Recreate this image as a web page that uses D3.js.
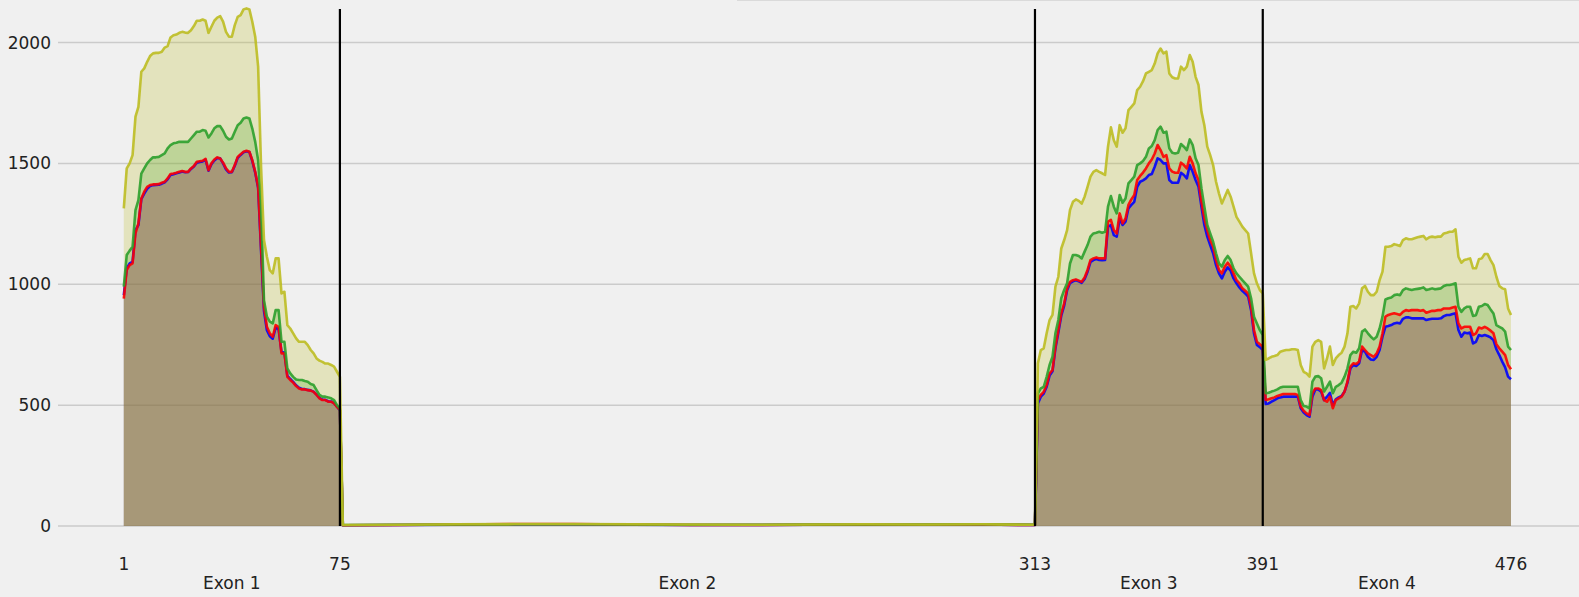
<!DOCTYPE html>
<html>
<head>
<meta charset="utf-8">
<script src="https://cdn.jsdelivr.net/npm/d3@7"></script>
<style>
	html, body { margin: 0; padding: 0; background: #f0f0f0; }
	svg { display: block; font-family: "DejaVu Sans", sans-serif; }
</style>
</head>
<body>
<svg id="chart" width="1579" height="597"></svg>
<script>
// exon boundaries (1-based positions) and labels
var exonBounds = [1, 75, 313, 391, 476];
var exonNames = ["Exon 1", "Exon 2", "Exon 3", "Exon 4"];
var yTicks = [0, 500, 1000, 1500, 2000];

// positions: exon 1 every base, exon 2 sparse (flat ~0), exons 3+4 every base
var positions = d3.range(1, 76)
	.concat([76, 95, 115, 135, 155, 175, 195, 215, 235, 255, 275, 295, 313])
	.concat(d3.range(314, 477));

var covYellow = [
	1314,1479,1500,1534,1693,1734,1879,1893,1920,1944,
	1955,1957,1957,1962,1979,1985,2021,2030,2033,2040,
	2044,2041,2040,2051,2068,2090,2090,2095,2090,2040,
	2065,2090,2103,2109,2086,2044,2024,2024,2072,2106,
	2113,2137,2141,2137,2086,2024,1900,1486,1183,1114,
	1058,1045,1107,1107,962,969,831,817,797,776,
	762,762,762,748,728,714,693,684,679,672,
	672,666,659,638,617,
	4,5,7,8,8,7,6,5,6,7,6,7,5,
	673,728,735,797,852,873,990,1031,1148,1183,
	1224,1307,1341,1351,1345,1334,1362,1403,1445,1465,
	1472,1465,1459,1452,1569,1649,1596,1569,1658,1627,
	1645,1720,1734,1748,1803,1817,1840,1872,1879,1886,
	1913,1955,1975,1955,1962,1872,1856,1851,1851,1900,
	1886,1900,1948,1920,1858,1824,1714,1658,1569,1534,
	1493,1424,1376,1334,1362,1390,1362,1321,1279,1259,
	1238,1224,1210,1128,1045,1004,976,962,
	687,693,700,703,707,721,725,728,728,731,
	731,728,666,638,631,618,742,762,769,762,
	652,693,742,666,693,707,717,742,797,907,
	910,900,921,983,993,969,955,955,969,1017,
	1052,1155,1155,1158,1166,1162,1158,1183,1190,1186,
	1186,1190,1194,1197,1200,1186,1194,1197,1194,1197,
	1197,1210,1213,1217,1217,1227,1114,1089,1100,1103,
	1107,1066,1066,1103,1107,1125,1125,1100,1079,1031,
	993,983,979,900,873
];

var covGreen = [
	990,1121,1139,1155,1307,1348,1458,1479,1500,1514,
	1525,1525,1527,1534,1541,1562,1576,1583,1585,1589,
	1589,1589,1589,1603,1617,1631,1631,1638,1635,1607,
	1624,1645,1654,1654,1635,1610,1599,1603,1631,1658,
	1668,1686,1690,1686,1644,1589,1513,1321,934,866,
	845,838,893,893,762,762,652,631,617,606,
	604,604,600,597,587,583,562,542,535,535,
	532,528,521,500,486,
	4,5,6,7,7,6,5,5,6,6,6,7,5,
	549,569,576,617,666,700,797,852,942,976,
	1004,1086,1121,1121,1117,1107,1135,1162,1197,1210,
	1213,1217,1213,1217,1321,1365,1321,1293,1369,1337,
	1355,1417,1431,1445,1493,1500,1510,1527,1562,1572,
	1596,1638,1652,1627,1631,1562,1544,1541,1544,1580,
	1569,1555,1599,1576,1521,1493,1397,1321,1245,1210,
	1176,1128,1086,1073,1100,1117,1100,1066,1045,1031,
	1017,1004,990,942,866,838,810,790,
	549,551,556,560,565,573,576,576,576,576,
	576,576,521,496,494,487,597,618,620,611,
	556,576,597,549,576,583,593,618,652,707,
	721,717,735,804,813,797,783,772,783,817,
	866,937,942,945,955,958,955,976,983,979,
	976,979,981,983,987,976,979,983,979,981,
	983,993,997,997,1000,1004,907,886,900,907,
	907,869,872,907,910,918,914,896,879,831,
	824,817,804,742,728
];

var covRed = [
	941,1059,1079,1086,1210,1252,1355,1383,1403,1410,
	1413,1413,1414,1420,1424,1438,1456,1458,1461,1465,
	1468,1465,1465,1479,1489,1507,1509,1511,1519,1472,
	1500,1516,1525,1520,1503,1479,1465,1465,1493,1527,
	1538,1548,1552,1548,1513,1465,1403,1155,907,824,
	797,783,831,824,714,714,617,604,593,579,
	569,565,565,562,560,555,542,528,521,521,
	514,514,507,493,480,
	3,4,6,8,8,6,4,4,5,5,5,6,4,
	521,542,555,583,631,645,742,811,880,921,
	983,1010,1017,1020,1015,1010,1028,1059,1100,1107,
	1111,1107,1107,1107,1259,1266,1224,1210,1293,1252,
	1272,1328,1351,1369,1431,1448,1462,1479,1500,1516,
	1541,1576,1555,1527,1534,1479,1466,1461,1461,1503,
	1493,1479,1527,1500,1459,1431,1341,1272,1224,1183,
	1155,1100,1059,1045,1073,1089,1073,1045,1017,1004,
	983,973,962,907,811,762,752,742,
	521,524,528,532,538,542,546,546,546,546,
	546,542,494,477,466,459,549,569,569,562,
	521,514,535,487,521,528,535,556,597,659,
	673,670,680,742,728,714,707,700,714,742,
	797,866,873,877,880,877,873,886,893,890,
	893,893,893,890,893,882,886,890,890,893,
	893,900,900,900,904,907,838,817,824,824,
	824,790,797,821,817,824,817,808,797,752,
	735,721,707,666,648
];

var covBlue = [
	955,1066,1086,1093,1224,1245,1352,1375,1395,1406,
	1410,1411,1412,1416,1422,1434,1452,1455,1459,1462,
	1466,1463,1464,1477,1487,1503,1506,1508,1515,1470,
	1497,1512,1522,1521,1500,1475,1462,1463,1490,1523,
	1535,1546,1550,1547,1510,1462,1398,1140,890,810,
	785,775,820,815,720,718,622,608,596,582,
	572,567,566,563,561,556,544,530,523,522,
	516,515,508,494,478,
	3,4,5,7,7,5,4,4,5,5,5,6,4,
	507,535,548,576,622,640,735,800,870,912,
	975,1005,1012,1016,1012,1006,1022,1052,1092,1100,
	1104,1100,1099,1100,1238,1245,1203,1197,1272,1245,
	1259,1314,1328,1341,1403,1424,1430,1438,1452,1456,
	1486,1521,1514,1500,1500,1431,1420,1420,1420,1461,
	1452,1438,1493,1465,1431,1403,1321,1245,1197,1162,
	1128,1079,1045,1024,1052,1070,1056,1024,1004,987,
	973,962,949,893,797,749,740,728,
	505,507,514,521,528,532,535,535,535,535,
	535,535,487,469,459,452,535,565,565,556,
	521,535,551,500,524,532,538,556,593,652,
	666,662,673,728,721,700,689,687,700,728,
	783,824,827,831,838,841,838,857,863,863,
	859,859,859,859,859,852,855,857,857,857,
	859,868,873,873,877,880,811,783,800,797,
	800,755,762,790,786,790,786,780,769,731,
	707,680,656,618,607
];

// drawing order: blue first, yellow last (as in the source plot)
var series = [
	{name: "blue", color: "#0000ff", values: covBlue},
	{name: "red", color: "#ff0000", values: covRed},
	{name: "green", color: "#2ca02c", values: covGreen},
	{name: "yellow", color: "#bcbd22", values: covYellow}
];

var svg = d3.select("#chart");

var x = d3.scaleLinear().domain([1, 476]).range([123.8, 1511]);
var y = d3.scaleLinear().domain([0, 2000]).range([526, 42.5]);

// faint frame edge at top right
svg.append("line")
	.attr("x1", 737).attr("x2", 1579)
	.attr("y1", 0.5).attr("y2", 0.5)
	.attr("stroke", "#dadada")
	.attr("stroke-width", 1);

// horizontal grid + y labels
var grid = svg.append("g");
yTicks.forEach(function (t) {
	grid.append("line")
		.attr("x1", 58).attr("x2", 1579)
		.attr("y1", y(t)).attr("y2", y(t))
		.attr("stroke", "#cbcbcb")
		.attr("stroke-width", 1.5);
	grid.append("text")
		.attr("x", 51)
		.attr("y", y(t) + 6)
		.attr("text-anchor", "end")
		.attr("font-size", 17)
		.attr("fill", "#222")
		.text(t);
});

var area = d3.area()
	.x(function (d) { return x(d[0]); })
	.y0(y(0))
	.y1(function (d) { return y(d[1]); });

var line = d3.line()
	.x(function (d) { return x(d[0]); })
	.y(function (d) { return y(d[1]); });

series.forEach(function (s) {
	s.points = positions.map(function (p, i) { return [p, s.values[i]]; });
});

var plot = svg.append("g");

series.forEach(function (s) {
	plot.append("path")
		.datum(s.points)
		.attr("d", area)
		.attr("fill", s.color)
		.attr("fill-opacity", 0.25)
		.attr("stroke", "none");
});

series.forEach(function (s) {
	plot.append("path")
		.datum(s.points)
		.attr("d", line)
		.attr("fill", "none")
		.attr("stroke", s.color)
		.attr("stroke-opacity", 0.9)
		.attr("stroke-width", 2.6)
		.attr("stroke-linejoin", "round");
});

// exon boundary markers
exonBounds.slice(1, -1).forEach(function (b) {
	svg.append("line")
		.attr("x1", x(b)).attr("x2", x(b))
		.attr("y1", 9).attr("y2", y(0))
		.attr("stroke", "#000")
		.attr("stroke-width", 2.2);
});

// x tick labels at boundaries, exon names centred between them
var xAxis = svg.append("g");
exonBounds.forEach(function (b) {
	xAxis.append("text")
		.attr("x", x(b))
		.attr("y", 570)
		.attr("text-anchor", "middle")
		.attr("font-size", 17)
		.attr("fill", "#222")
		.text(b);
});
exonNames.forEach(function (n, i) {
	xAxis.append("text")
		.attr("x", (x(exonBounds[i]) + x(exonBounds[i + 1])) / 2)
		.attr("y", 589)
		.attr("text-anchor", "middle")
		.attr("font-size", 17)
		.attr("fill", "#222")
		.text(n);
});
</script>
</body>
</html>
